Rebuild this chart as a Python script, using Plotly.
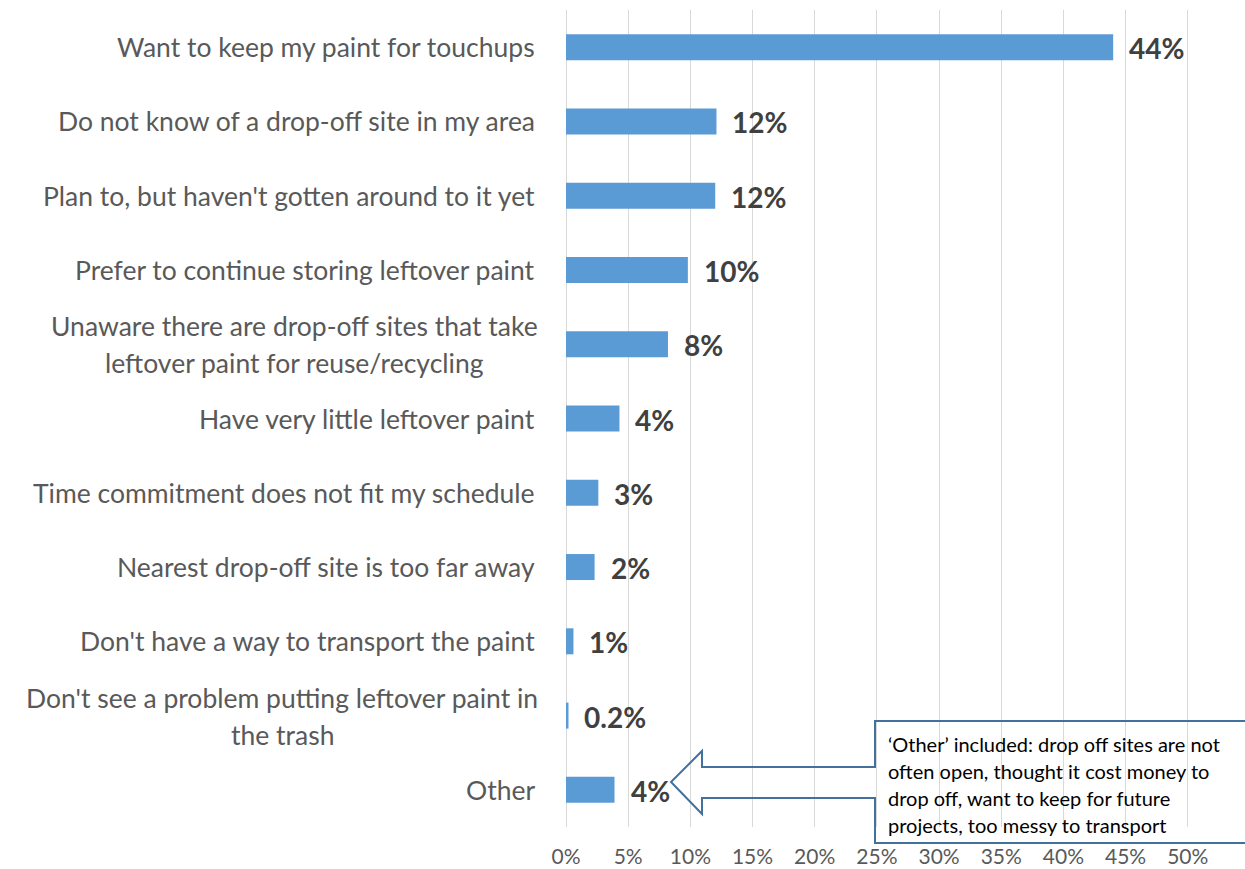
import plotly.graph_objects as go

# Survey: reasons for not taking leftover paint to a drop-off site
reasons = [
    "Want to keep my paint for touchups",
    "Do not know of a drop-off site in my area",
    "Plan to, but haven't gotten around to it yet",
    "Prefer to continue storing leftover paint",
    "Unaware there are drop-off sites that take|leftover paint for reuse/recycling",
    "Have very little leftover paint",
    "Time commitment does not fit my schedule",
    "Nearest drop-off site is too far away",
    "Don't have a way to transport the paint",
    "Don't see a problem putting leftover paint in|the trash",
    "Other",
]
shares = [44.0, 12.1, 12.0, 9.8, 8.2, 4.3, 2.6, 2.3, 0.6, 0.2, 3.9]  # percent of respondents

tick_vals = [0, 0.05, 0.10, 0.15, 0.20, 0.25, 0.30, 0.35, 0.40, 0.45, 0.50]
tick_text = ["0%", "5%", "10%", "15%", "20%", "25%", "30%", "35%", "40%", "45%", "50%"]

note_lines = [
    "\u2018Other\u2019 included: drop off sites are not",
    "often open, thought it cost money to",
    "drop off, want to keep for future",
    "projects, too messy to transport",
]

# Page geometry (pixels)
W, H = 1245, 869
M_L, M_R, M_T, M_B = 566, 51, 10, 42
PW, PH = W - M_L - M_R, H - M_T - M_B


def px_x(px):
    return (px - M_L) / PW


def px_y(py):
    return (H - M_B - py) / PH


def pct_label(v):
    return f"{v:.1f}%" if v < 0.5 else f"{round(v):.0f}%"


cats = [f"c{i}" for i in range(len(reasons))]
values = [v / 100 for v in shares]

FONT = "Lato"
GREY = "#595959"
LABEL_SIZE = 26.5
LABEL_RIGHT = 537
# horizontal centre used for the wrapped (two-line) labels
WRAP_CENTRE = {"c4": 294, "c9": 282}

fig = go.Figure(
    go.Bar(
        x=values,
        y=cats,
        orientation="h",
        width=0.35,
        marker=dict(color="#5B9BD5", line=dict(color="#5B9BD5", width=0)),
        hoverinfo="skip",
    )
)

annotations = []
# category labels (wrapped labels are centred line by line)
for c, r in zip(cats, reasons):
    lines = r.split("|")
    if len(lines) == 1:
        annotations.append(dict(
            x=px_x(LABEL_RIGHT), xref="paper", y=c, yref="y", text=lines[0],
            xanchor="right", yanchor="middle", showarrow=False,
            font=dict(family=FONT, size=LABEL_SIZE, color=GREY),
        ))
    else:
        for k, line in enumerate(lines):
            annotations.append(dict(
                x=px_x(WRAP_CENTRE[c]), xref="paper", y=c, yref="y",
                text=line, xanchor="center", yanchor="middle", showarrow=False,
                yshift=18 - 37 * k,
                font=dict(family=FONT, size=LABEL_SIZE, color=GREY),
            ))

# value labels
for c, v in zip(cats, shares):
    annotations.append(dict(
        x=v / 100, xref="x", y=c, yref="y", text=pct_label(v),
        xanchor="left", yanchor="middle", showarrow=False, xshift=14, yshift=-1,
        font=dict(family=FONT, size=28, color="#404040", weight="bold"),
    ))

# callout text
for k, line in enumerate(note_lines):
    annotations.append(dict(
        x=px_x(886), xref="paper", y=px_y(744 + 27 * k), yref="paper",
        text=line, xanchor="left", yanchor="middle", showarrow=False,
        font=dict(family=FONT, size=20, color="#000000"),
    ))

# left-pointing block arrow callout
pts = [(875, 721), (1252, 721), (1252, 843), (875, 843), (875, 798),
       (702, 798), (702, 814), (671, 782), (702, 751), (702, 767), (875, 767)]
path = "M " + " L ".join(f"{px_x(x):.5f},{px_y(y):.5f}" for x, y in pts) + " Z"

fig.update_layout(
    width=W, height=H,
    margin=dict(l=M_L, r=M_R, t=M_T, b=M_B, pad=0, autoexpand=False),
    paper_bgcolor="white", plot_bgcolor="white",
    showlegend=False,
    annotations=annotations,
    shapes=[dict(type="path", path=path, xref="paper", yref="paper",
                 line=dict(color="#41719C", width=2), fillcolor="rgba(0,0,0,0)")],
    xaxis=dict(
        range=[0, 0.505], tickvals=tick_vals, ticktext=tick_text,
        showgrid=True, gridcolor="#D9D9D9", gridwidth=1,
        zeroline=True, zerolinecolor="#D9D9D9", zerolinewidth=1,
        showline=False, ticks="", ticklabelstandoff=15, automargin=False,
        tickfont=dict(family=FONT, size=21, color=GREY),
    ),
    yaxis=dict(
        categoryorder="array", categoryarray=cats, autorange="reversed",
        showticklabels=False, showgrid=False, zeroline=False, showline=False,
        ticks="", automargin=False,
    ),
)

fig.write_html("out.html")
